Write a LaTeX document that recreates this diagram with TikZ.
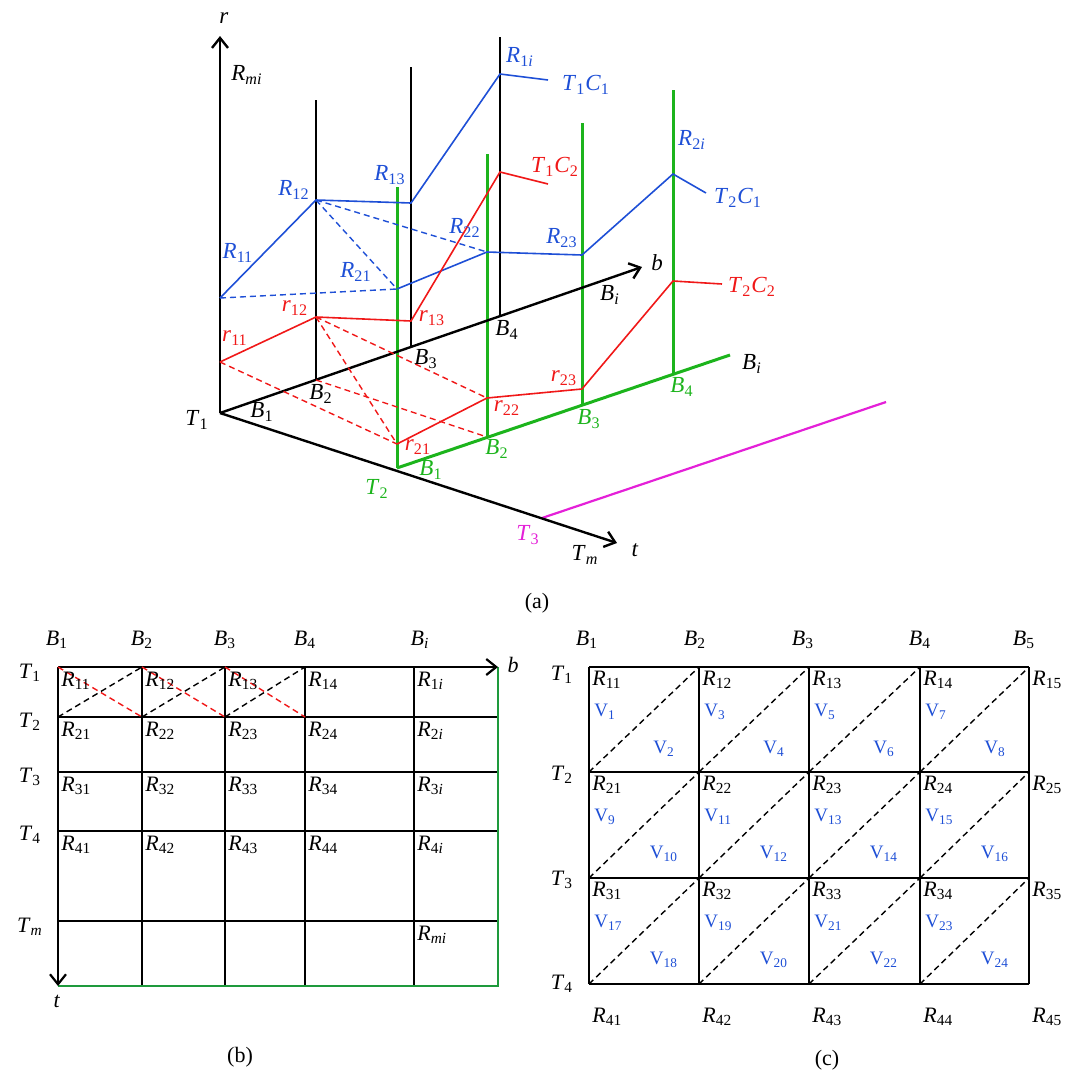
\documentclass[tikz,border=0pt]{standalone}
\usepackage{fontspec}
\setmainfont{Liberation Serif}
\usepackage{xcolor}
\usetikzlibrary{arrows.meta,calc,positioning}
\definecolor{pathblue}{HTML}{1E4FD6}
\definecolor{pathred}{HTML}{F01818}
\definecolor{planegreen}{HTML}{1CB41C}
\definecolor{gridgreen}{HTML}{1E9A3C}
\definecolor{planemag}{HTML}{E420D8}
\newcommand{\rlab}[2]{\textit{#1}\textsubscript{#2}}
\newcommand{\vlab}[1]{V\textsubscript{#1}}

\begin{document}
\begin{tikzpicture}[
        x=0.5pt,y=-0.5pt,
        lbl/.style={inner sep=0pt,font=\fontsize{11.5}{13}\selectfont},
        rtxt/.style={inner sep=0pt,font=\fontsize{11}{12}\selectfont},
        vtxt/.style={rtxt,text=pathblue,font=\fontsize{9.5}{11}\selectfont},
        subcap/.style={inner sep=0pt,font=\fontsize{11}{13}\selectfont},
        axis/.style={line width=1.2pt,-{Straight Barb[length=5pt,width=8pt]}},
        pole/.style={line width=1.2pt},
        gpole/.style={planegreen,line width=1.5pt},
        c1/.style={pathblue,line width=0.8pt},
        c2/.style={pathred,line width=0.8pt},
        cellline/.style={line width=1.1pt},
        diag/.style={line width=0.7pt,dash pattern=on 3pt off 2pt}
      ]
        \useasboundingbox (0,0) rectangle (1071,1072);

        % (a) 3-D view
        \coordinate (O) at (220,413);
        \coordinate (raxis) at (220,36);
        \coordinate (baxis) at (642,267);
        \coordinate (taxis) at (617,543);
        \coordinate (p2) at (316,380); \coordinate (p2t) at (316,100);
        \coordinate (p3) at (411,346); \coordinate (p3t) at (411,67);
        \coordinate (p4) at (500,316); \coordinate (p4t) at (500,37);
        \coordinate (g1) at (397,468); \coordinate (g1t) at (397,187);
        \coordinate (g2) at (487,437); \coordinate (g2t) at (487,154);
        \coordinate (g3) at (582,405); \coordinate (g3t) at (582,123);
        \coordinate (g4) at (673,374); \coordinate (g4t) at (673,90);
        \coordinate (gend) at (730,355);
        \coordinate (m0) at (542,518); \coordinate (mend) at (886,402);
        \coordinate (R11) at (220,298); \coordinate (R12) at (316,200);
        \coordinate (R13) at (411,203); \coordinate (R1i) at (500,74);
        \coordinate (C11) at (548,80);
        \coordinate (R21) at (397,289); \coordinate (R22) at (487,252);
        \coordinate (R23) at (582,255); \coordinate (R2i) at (673,174);
        \coordinate (C21) at (706,193);
        \coordinate (r11) at (220,362); \coordinate (r12) at (316,317);
        \coordinate (r13) at (411,321); \coordinate (r1i) at (500,172);
        \coordinate (C12) at (548,184);
        \coordinate (r21) at (397,444); \coordinate (r22) at (487,398);
        \coordinate (r23) at (582,389); \coordinate (r2i) at (673,281);
        \coordinate (C22) at (722,284);

        \draw[pole] (p2) -- (p2t);
        \draw[pole] (p3) -- (p3t);
        \draw[pole] (p4) -- (p4t);
        \draw[gpole] (g1) -- (g1t);
        \draw[gpole] (g2) -- (g2t);
        \draw[gpole] (g3) -- (g3t);
        \draw[gpole] (g4) -- (g4t);
        \draw[gpole] (g1) -- (gend);
        \draw[planemag,line width=1.1pt] (m0) -- (mend);
        \draw[axis] (O) -- (raxis);
        \draw[axis] (O) -- (baxis);
        \draw[axis] (O) -- (taxis);

        \draw[c1,diag] (R11) -- (R21);
        \draw[c1,diag] (R12) -- (R21);
        \draw[c1,diag] (R12) -- (R22);
        \draw[c2,diag] (r11) -- (r21);
        \draw[c2,diag] (r12) -- (r21);
        \draw[c2,diag] (r12) -- (r22);
        \draw[c2,diag] (p2) -- (g2);
        \draw[c1] (R11) -- (R12) -- (R13) -- (R1i) -- (C11);
        \draw[c1] (R21) -- (R22) -- (R23) -- (R2i) -- (C21);
        \draw[c2] (r11) -- (r12) -- (r13) -- (r1i) -- (C12);
        \draw[c2] (r21) -- (r22) -- (r23) -- (r2i) -- (C22);

        \node[lbl] (lr) at (224,18) {\textit{r}};
        \node[lbl] (lRmi) at (247,75) {\rlab{R}{\textit{mi}}};
        \node[lbl] (lT1) at (197,420) {\rlab{T}{1}};
        \node[lbl] (lB1) at (262,412) {\rlab{B}{1}};
        \node[lbl] (lB2) at (321,394) {\rlab{B}{2}};
        \node[lbl] (lB3) at (426,359) {\rlab{B}{3}};
        \node[lbl] (lB4) at (507,330) {\rlab{B}{4}};
        \node[lbl] (lBi) at (610,295) {\rlab{B}{\textit{i}}};
        \node[lbl] (lb) at (657,263) {\textit{b}};
        \node[lbl] (lt) at (635,550) {\textit{t}};
        \node[lbl] (lTm) at (585,555) {\rlab{T}{\textit{m}}};
        \node[lbl,text=planemag] (lT3) at (528,535) {\rlab{T}{3}};
        \node[lbl,text=planegreen] (lT2) at (377,489) {\rlab{T}{2}};
        \node[lbl,text=planegreen] (lgB1) at (431,470) {\rlab{B}{1}};
        \node[lbl,text=planegreen] (lgB2) at (497,449) {\rlab{B}{2}};
        \node[lbl,text=planegreen] (lgB3) at (589,419) {\rlab{B}{3}};
        \node[lbl,text=planegreen] (lgB4) at (682,387) {\rlab{B}{4}};
        \node[lbl] (lgBi) at (752,364) {\rlab{B}{\textit{i}}};
        \node[lbl,text=pathblue] (lR11) at (238,253) {\rlab{R}{11}};
        \node[lbl,text=pathblue] (lR12) at (294,190) {\rlab{R}{12}};
        \node[lbl,text=pathblue] (lR13) at (390,175) {\rlab{R}{13}};
        \node[lbl,text=pathblue] (lR1i) at (520,57) {\rlab{R}{1\textit{i}}};
        \node[lbl,text=pathblue] (lT1C1) at (586,85) {\rlab{T}{1}\rlab{C}{1}};
        \node[lbl,text=pathblue] (lR21) at (356,272) {\rlab{R}{21}};
        \node[lbl,text=pathblue] (lR22) at (465,228) {\rlab{R}{22}};
        \node[lbl,text=pathblue] (lR23) at (562,238) {\rlab{R}{23}};
        \node[lbl,text=pathblue] (lR2i) at (692,140) {\rlab{R}{2\textit{i}}};
        \node[lbl,text=pathblue] (lT2C1) at (738,198) {\rlab{T}{2}\rlab{C}{1}};
        \node[lbl,text=pathred] (lr11) at (235,338) {\rlab{r}{11}};
        \node[lbl,text=pathred] (lr12) at (295,308) {\rlab{r}{12}};
        \node[lbl,text=pathred] (lr13) at (432,318) {\rlab{r}{13}};
        \node[lbl,text=pathred] (lr21) at (418,447) {\rlab{r}{21}};
        \node[lbl,text=pathred] (lr22) at (507,408) {\rlab{r}{22}};
        \node[lbl,text=pathred] (lr23) at (564,378) {\rlab{r}{23}};
        \node[lbl,text=pathred] (lT1C2) at (555,167) {\rlab{T}{1}\rlab{C}{2}};
        \node[lbl,text=pathred] (lT2C2) at (752,287) {\rlab{T}{2}\rlab{C}{2}};
        \node[subcap] (capa) at (537,603) {(a)};

        % (b) table with time rows
        \foreach \x [count=\i] in {58,142,225,305,414,498}
          \foreach \y [count=\j] in {667,717,772,831,921,986}
            \coordinate (b\i\j) at (\x,\y);
        \foreach \i in {2,...,5} \draw[cellline] (b\i1) -- (b\i6);
        \foreach \j in {2,...,5} \draw[cellline] (b1\j) -- (b6\j);
        \draw[gridgreen,line width=1.1pt] (b61) -- (b66) -- (b16);
        \draw[axis,line width=1.1pt] (b11) -- (b61);
        \draw[axis,line width=1.1pt] (b11) -- (b16);
        \foreach \i in {1,2,3} {
          \pgfmathtruncatemacro{\ii}{\i+1}
          \draw[diag,pathred] (b\i1) -- (b\ii2);
          \draw[diag] (b\i2) -- (b\ii1);
        }
        \foreach \x/\s in {57/1,142/2,225/3,305/4,420/\textit{i}}
          \node[rtxt] (bB\x) at (\x,640) {\rlab{B}{\s}};
        \foreach \y/\s in {673/1,722/2,777/3,835/4,927/\textit{m}}
          \node[rtxt] (bT\y) at (30,\y) {\rlab{T}{\s}};
        \foreach \j in {1,...,4}
          \foreach \i/\s in {1/1,2/2,3/3,4/4,5/\textit{i}}
            \node[rtxt,anchor=west] (bR\j\i) at ($(b\i\j)+(3,14)$) {\rlab{R}{\j\s}};
        \node[rtxt,anchor=west] (bRmi) at ($(b55)+(3,14)$) {\rlab{R}{\textit{mi}}};
        \node[rtxt] (lbb) at (513,665) {\textit{b}};
        \node[rtxt] (lbt) at (57,1001) {\textit{t}};
        \node[subcap] (capb) at (240,1057) {(b)};

        % (c) table with triangles
        \foreach \x [count=\i] in {589,699,809,920,1029}
          \foreach \y [count=\j] in {667,772,878,984}
            \coordinate (c\i\j) at (\x,\y);
        \foreach \i in {1,...,5} \draw[cellline] (c\i1) -- (c\i4);
        \foreach \j in {1,...,4} \draw[cellline] (c1\j) -- (c5\j);
        \foreach \j in {1,2,3} {
          \foreach \i in {1,...,4} {
            \pgfmathtruncatemacro{\ii}{\i+1}
            \pgfmathtruncatemacro{\jj}{\j+1}
            \pgfmathtruncatemacro{\vo}{8*(\j-1)+2*\i-1}
            \pgfmathtruncatemacro{\ve}{\vo+1}
            \draw[diag] (c\i\jj) -- (c\ii\j);
            \node[rtxt,anchor=west] (cR\j\i) at ($(c\i\j)+(3,13)$) {\rlab{R}{\j\i}};
            \node[vtxt,anchor=west] (cV\vo) at ($(c\i\j)+(5,45)$) {\vlab{\vo}};
            \node[vtxt] (cV\ve) at ($(c\i\j)+(75,82)$) {\vlab{\ve}};
          }
        }
        \foreach \j in {1,2,3}
          \node[rtxt,anchor=west] (cR\j5) at ($(c5\j)+(3,13)$) {\rlab{R}{\j5}};
        \foreach \i in {1,...,5}
          \node[rtxt,anchor=west] (cR4\i) at ($(c\i4)+(3,33)$) {\rlab{R}{4\i}};
        \foreach \x [count=\i] in {587,695,803,920,1024}
          \node[rtxt] (cB\i) at (\x,640) {\rlab{B}{\i}};
        \foreach \y [count=\j] in {675,775,880,984}
          \node[rtxt] (cT\j) at (562,\y) {\rlab{T}{\j}};
        \node[subcap] (capc) at (827,1060) {(c)};
      \end{tikzpicture}
\end{document}
